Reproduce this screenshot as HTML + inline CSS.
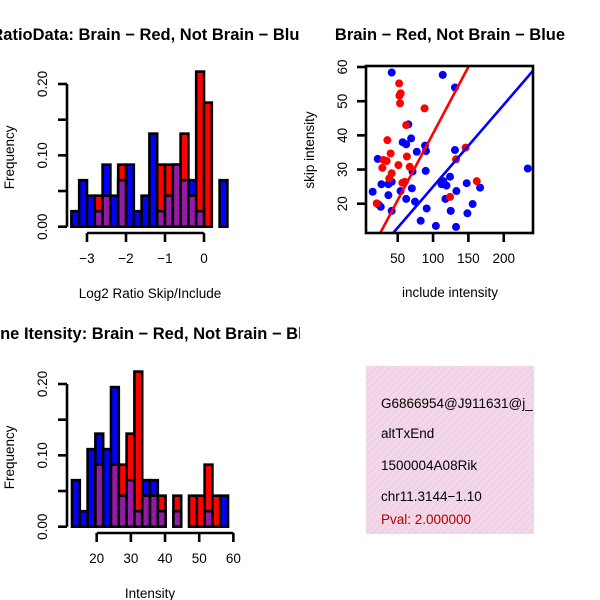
<!DOCTYPE html>
<html><head><meta charset="utf-8"><style>
html,body{margin:0;padding:0;background:#fff;}
svg{display:block;font-family:"Liberation Sans",sans-serif;}
</style></head><body>
<svg id="chart" width="600" height="600" viewBox="0 0 600 600" xmlns="http://www.w3.org/2000/svg">
<defs>
<clipPath id="clipL"><rect x="0" y="0" width="300" height="600"/></clipPath>
<clipPath id="clipS"><rect x="366" y="66" width="167" height="167"/></clipPath>
<clipPath id="clipB"><rect x="366" y="366" width="168" height="168"/></clipPath>
<pattern id="stripe" width="5" height="5" patternUnits="userSpaceOnUse" patternTransform="rotate(45)">
<rect width="5" height="5" fill="#fad2f2"/><rect width="1.4" height="5" fill="#dcdccc"/>
</pattern>
<pattern id="hatch" width="4" height="4" patternUnits="userSpaceOnUse" patternTransform="rotate(45)">
<rect width="4" height="4" fill="#8e1aa0"/><rect width="1.5" height="4" fill="#a01ab0"/>
</pattern>
</defs>
<g id="top-hist" clip-path="url(#clipL)"></g>
<g id="bot-hist" clip-path="url(#clipL)"></g>
<g id="scatter"></g>
<g clip-path="url(#clipB)">
<rect x="366" y="366" width="168" height="168" fill="url(#stripe)"/>
<g font-size="13.5" fill="#000">
<text x="381" y="408">G6866954@J911631@j_</text>
<text x="381" y="438">altTxEnd</text>
<text x="381" y="470">1500004A08Rik</text>
<text x="381" y="501">chr11.3144−1.10</text>
<text x="381" y="524" fill="#b00000">Pval: 2.000000</text>
</g></g>
</svg>
<script>
// ---- top histogram data (counts, 46 per group) ----
const ratioBreakStart = -3.4;
const ratioBinWidth = 0.2;
const ratioBlue = [1,3,2,1,4,2,3,4,1,2,6,1,2,4,3,3,1,0,0,3];
const ratioRed  = [0,0,0,2,2,0,4,0,0,0,0,4,4,4,6,2,10,8,0,0];
const ratioXTicks = [-3,-2,-1,0];
const freqTicks = [0.00,0.05,0.10,0.15,0.20];
const freqTickLabels = ["0.00","","0.10","","0.20"];
// ---- bottom histogram data ----
const intBreakStart = 12.77;
const intBinWidth = 2.283;
const intBlue = [3,1,5,6,5,9,2,3,1,3,3,1,0,1,0,0,0,1,0,2];
const intRed  = [0,0,0,4,0,4,4,6,10,2,2,2,0,2,0,2,2,4,2,0];
const intXTicks = [20,30,40,50,60];
// ---- scatter data ----
const blueX = [41.5,113.7,131,65,69,57,62,88.7,77,90,131,21.7,71,89.6,234,14.6,27,36.8,41.5,36.8,54,70,62,74.5,114.6,119,112,124,133,147.6,166.5,117.5,22.6,26,41.5,91,125,148.6,156,82.5,104,132.5];
const blueY = [58.4,57.7,54,43.2,39.1,38,37.4,37,35.2,35.4,35.7,33.1,29.4,29.6,30.3,23.5,25.7,25.7,26.4,22.5,23.7,24.5,21.4,20.6,26.6,25.3,25.7,27.9,23.7,26,24.7,21.4,19.8,19.1,17.9,18.6,17.9,17.2,19.9,15,13.5,13.2];
const redX = [52,54.2,52.4,53.3,88,62,35.4,40,34.4,30,28.3,51,63,67,41.5,38,56.6,146,132.5,161.8,124,20.3,60];
const redY = [55.2,52.3,51.6,49.4,47.9,43,38.6,34.7,32.5,32.8,30.5,31.3,33.8,30.8,28.9,27.4,26.1,36.4,33,26.6,22,20.1,26.4];
const redFit = [1.55, 0.39];   // intercept, slope
const blueFit = [0.98, 0.24];
const scatterXTicks = [50,100,150,200];
const scatterYTicks = [20,30,40,50,60];

const NS = "http://www.w3.org/2000/svg";
const TITLE_FS = "16.5", LAB_FS = "13.5";
function mk(tag, attrs, parent){const e=document.createElementNS(NS,tag);for(const k in attrs)e.setAttribute(k,attrs[k]);parent.appendChild(e);return e;}

function drawHist(g, o){
  const yS = v => o.y0 - v/0.20*(o.y0-o.y20);
  const xS = v => o.xA + (v-o.tA)*o.pxPer;
  const tot = 46;
  const t = mk("text",{x:150,y:o.titleY,"text-anchor":"middle","font-size":TITLE_FS,"font-weight":"bold"},g);
  
  
  t.textContent = o.title;
  const bars = [[o.blue,"#0000ff"],[o.red,"#ff0000"]];
  bars.forEach(([arr,col])=>{
    arr.forEach((c,i)=>{
      if(!c) return;
      const x0=xS(o.bs+i*o.bw), x1=xS(o.bs+(i+1)*o.bw);
      const r=mk("rect",{x:x0,y:yS(c/tot),width:x1-x0,height:yS(0)-yS(c/tot),fill:col,stroke:"#000","stroke-width":2.6},g);
      
      
    });
  });
  o.blue.forEach((b,i)=>{
    const m=Math.min(b,o.red[i]); if(!m) return;
    const x0=xS(o.bs+i*o.bw), x1=xS(o.bs+(i+1)*o.bw);
    const r=mk("rect",{x:x0,y:yS(m/tot),width:x1-x0,height:yS(0)-yS(m/tot),fill:"url(#hatch)",stroke:"#000","stroke-width":2.6},g);
    
    
  });
  const ya=mk("g",{},g);
  
  
  mk("line",{x1:67,x2:67,y1:yS(0),y2:yS(0.2),stroke:"#000","stroke-width":2.6},ya);
  freqTicks.forEach((v,i)=>{
    mk("line",{x1:58,x2:67,y1:yS(v),y2:yS(v),stroke:"#000","stroke-width":2.6},ya);
    if(freqTickLabels[i]){
      const tx=mk("text",{x:0,y:0,"text-anchor":"middle","font-size":LAB_FS,transform:`translate(47,${yS(v)}) rotate(-90)`},ya);
      
      
      tx.textContent=freqTickLabels[i];
    }
  });
  const yl=mk("text",{x:0,y:0,"text-anchor":"middle","font-size":LAB_FS,transform:`translate(14,${(yS(0)+yS(0.2))/2+2}) rotate(-90)`},g);
  
  
  yl.textContent="Frequency";
  const xa=mk("g",{},g);
  
  
  const ay=o.axisY;
  mk("line",{x1:xS(o.ticks[0]),x2:xS(o.ticks[o.ticks.length-1]),y1:ay,y2:ay,stroke:"#000","stroke-width":2.6},xa);
  o.ticks.forEach(v=>{
    mk("line",{x1:xS(v),x2:xS(v),y1:ay,y2:ay+9,stroke:"#000","stroke-width":2.6},xa);
    const tx=mk("text",{x:xS(v),y:ay+30,"text-anchor":"middle","font-size":LAB_FS},xa);
    
    
    tx.textContent = v<0 ? "−"+Math.abs(v) : String(v);
  });
  const xl=mk("text",{x:150,y:ay+65,"text-anchor":"middle","font-size":LAB_FS},g);
  
  
  xl.textContent=o.xlabel;
}

drawHist(document.getElementById("top-hist"),{
  y0:226.7,y20:84,xA:204,tA:0,pxPer:39,bs:ratioBreakStart,bw:ratioBinWidth,
  blue:ratioBlue,red:ratioRed,ticks:ratioXTicks,axisY:233,titleY:40,
  title:"RatioData: Brain − Red, Not Brain − Blue",xlabel:"Log2 Ratio Skip/Include"});
drawHist(document.getElementById("bot-hist"),{
  y0:526.7,y20:384,xA:96.7,tA:20,pxPer:3.417,bs:intBreakStart,bw:intBinWidth,
  blue:intBlue,red:intRed,ticks:intXTicks,axisY:533,titleY:339,
  title:"Gene Itensity: Brain − Red, Not Brain − Blue",xlabel:"Intensity"});

(function(){
  const g=document.getElementById("scatter");
  const xS=v=>397.7+(v-50)*0.707;
  const yS=v=>203.7-(v-20)*3.417;
  const t=mk("text",{x:450,y:40,"text-anchor":"middle","font-size":TITLE_FS,"font-weight":"bold"},g);
  
  
  t.textContent="Brain − Red, Not Brain − Blue";
  const pts=mk("g",{"clip-path":"url(#clipS)"},g);
  
  
  blueX.forEach((x,i)=>{
    const c=mk("circle",{cx:xS(x),cy:yS(blueY[i]),r:4,fill:"#0000ff"},pts);
    
    
  });
  redX.forEach((x,i)=>{
    const c=mk("circle",{cx:xS(x),cy:yS(redY[i]),r:4,fill:"#ff0000"},pts);
    
    
  });
  [[redFit,"#ff0000",'fit-line-brain'],[blueFit,"#0000ff",'fit-line-not-brain']].forEach(([f,col,nm])=>{
    const l=mk("line",{x1:xS(0),y1:yS(f[0]),x2:xS(300),y2:yS(f[0]+f[1]*300),stroke:col,"stroke-width":2.6},pts);
    
    
  });
  const box=mk("rect",{x:366,y:66,width:167,height:167,fill:"none",stroke:"#000","stroke-width":2.6},g);
  
  
  scatterXTicks.forEach(v=>{
    mk("line",{x1:xS(v),x2:xS(v),y1:233,y2:242,stroke:"#000","stroke-width":2.6},g);
    const tx=mk("text",{x:xS(v),y:263,"text-anchor":"middle","font-size":LAB_FS},g);
    
    
    tx.textContent=v;
  });
  scatterYTicks.forEach(v=>{
    mk("line",{x1:357,x2:366,y1:yS(v),y2:yS(v),stroke:"#000","stroke-width":2.6},g);
    const tx=mk("text",{x:0,y:0,"text-anchor":"middle","font-size":LAB_FS,transform:`translate(347,${yS(v)}) rotate(-90)`},g);
    
    
    tx.textContent=v;
  });
  const xl=mk("text",{x:450,y:297,"text-anchor":"middle","font-size":LAB_FS},g);
  
  
  xl.textContent="include intensity";
  const yl=mk("text",{x:0,y:0,"text-anchor":"middle","font-size":LAB_FS,transform:"translate(314,150) rotate(-90)"},g);
  
  
  yl.textContent="skip intensity";
})();
</script>
</body></html>
